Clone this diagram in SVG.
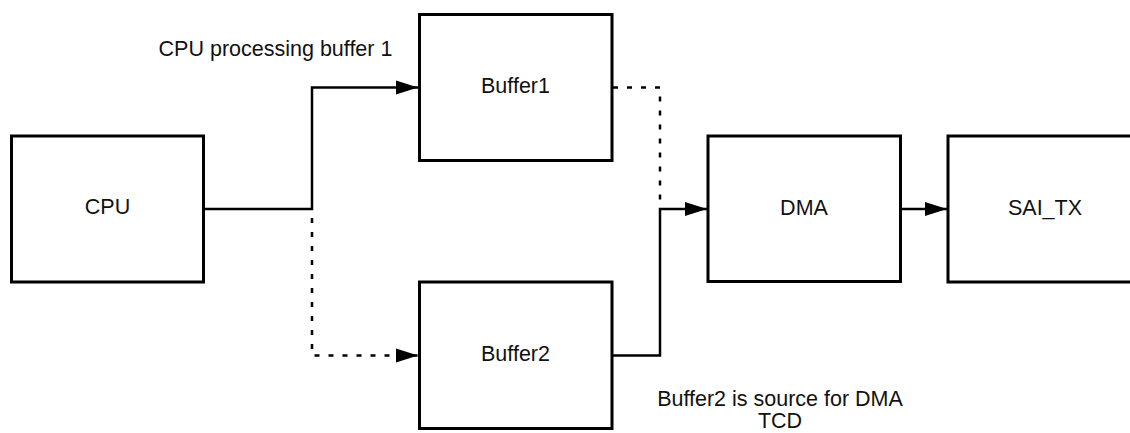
<svg xmlns="http://www.w3.org/2000/svg" width="1130" height="433" viewBox="0 0 1130 433">
  <style>
    .box { fill: #ffffff; stroke: #000000; stroke-width: 3; }
    .lbl { font-family: "Liberation Sans", Arial, sans-serif; font-size: 21.5px; fill: #111111; text-anchor: middle; }
    .wire { fill: none; stroke: #000000; stroke-width: 2.5; }
    .dotted { stroke-dasharray: 5 9; }
  </style>
  <defs>
    <marker id="arrow" markerUnits="userSpaceOnUse" markerWidth="23" markerHeight="15" refX="22" refY="7.5" orient="auto">
      <path d="M0,0.5 L22,7.5 L0,14.5 Z" fill="#000000"/>
    </marker>
  </defs>

  <rect width="1130" height="433" fill="#ffffff"/>

  <g id="connectors">
    <!-- CPU to Buffer1 (active) -->
    <path class="wire" d="M203,209 H312 V87.5 H418" marker-end="url(#arrow)"/>
    <!-- CPU to Buffer2 (idle) -->
    <path class="wire dotted" d="M312,218 V355.5 H418" marker-end="url(#arrow)"/>
    <!-- Buffer1 to DMA (idle) -->
    <path class="wire dotted" d="M613,87.5 H660 V200"/>
    <!-- Buffer2 to DMA (active) -->
    <path class="wire" d="M613,355.5 H660 V209 H707" marker-end="url(#arrow)"/>
    <!-- DMA to SAI_TX -->
    <path class="wire" d="M900,209 H947" marker-end="url(#arrow)"/>
  </g>

  <g id="cpu">
    <rect class="box" x="11.5" y="136" width="192" height="146"/>
    <text class="lbl" x="107.5" y="214">CPU</text>
  </g>

  <g id="buffer1">
    <rect class="box" x="419.5" y="14.5" width="192.5" height="146"/>
    <text class="lbl" x="515.5" y="92.5">Buffer1</text>
  </g>

  <g id="buffer2">
    <rect class="box" x="419.5" y="282" width="192.5" height="146.5"/>
    <text class="lbl" x="515.5" y="360.5">Buffer2</text>
  </g>

  <g id="dma">
    <rect class="box" x="708" y="136" width="192.5" height="145.5"/>
    <text class="lbl" x="804" y="215">DMA</text>
  </g>

  <g id="sai_tx">
    <rect class="box" x="948" y="136" width="194" height="146"/>
    <text class="lbl" x="1045" y="214.5">SAI_TX</text>
  </g>

  <g id="notes">
    <text class="lbl" x="275.5" y="56">CPU processing buffer 1</text>
    <text class="lbl" x="780" y="406">Buffer2 is source for DMA</text>
    <text class="lbl" x="780" y="428">TCD</text>
  </g>
</svg>
